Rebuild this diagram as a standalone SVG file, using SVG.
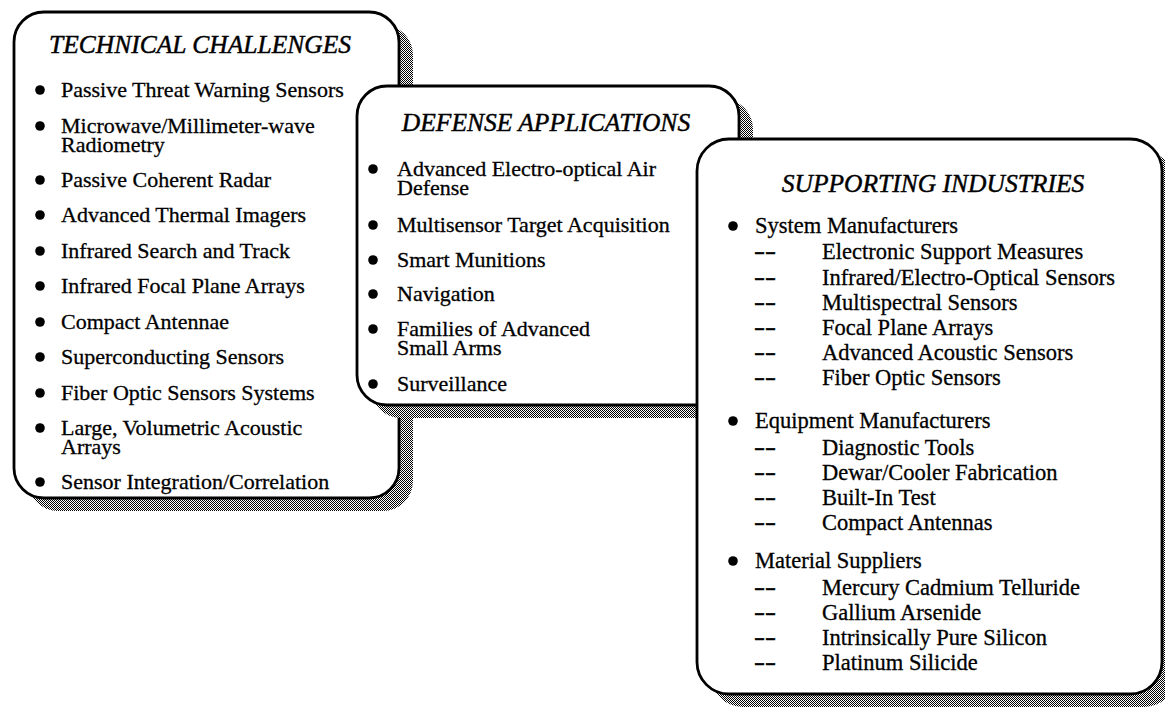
<svg xmlns="http://www.w3.org/2000/svg" width="1165" height="708" viewBox="0 0 1165 708">
<defs>
<pattern id="dither" x="0" y="0" width="2" height="2" patternUnits="userSpaceOnUse">
<rect x="0" y="0" width="2" height="2" fill="#fff"/>
<rect x="0" y="0" width="1" height="1" fill="#000"/>
<rect x="1" y="1" width="1" height="1" fill="#000"/>
</pattern>
</defs>
<style>
.box{fill:#fff;stroke:#000;stroke-width:2.8}
.shadow{fill:url(#dither);stroke:none}
.title{font-family:"Liberation Serif","Times New Roman",serif;font-style:italic;font-size:25.5px;fill:#000;stroke:#000;stroke-width:0.45;text-anchor:middle}
.t{font-family:"Liberation Serif","Times New Roman",serif;font-size:22px;fill:#000;stroke:#000;stroke-width:0.3}
.t3{font-family:"Liberation Serif","Times New Roman",serif;font-size:22.5px;fill:#000;stroke:#000;stroke-width:0.3}
.dash{font-family:"Liberation Serif","Times New Roman",serif;font-size:22.5px;fill:#000;stroke:#000;stroke-width:0.4}
.dot{fill:#000}
</style>
<rect width="1165" height="708" fill="#fff"/>
<g id="technical-challenges">
<rect class="shadow" x="28" y="25" width="385" height="486" rx="30"/>
<rect class="box" x="14" y="12" width="385" height="486" rx="30"/>
<text class="title" x="200" y="53">TECHNICAL CHALLENGES</text>
<circle class="dot" cx="40" cy="90" r="4.8"/><text class="t" x="61" y="97">Passive Threat Warning Sensors</text>
<circle class="dot" cx="40" cy="126" r="4.8"/><text class="t" x="61" y="133">Microwave/Millimeter-wave</text><text class="t" x="61" y="152">Radiometry</text>
<circle class="dot" cx="40" cy="180" r="4.8"/><text class="t" x="61" y="187">Passive Coherent Radar</text>
<circle class="dot" cx="40" cy="215" r="4.8"/><text class="t" x="61" y="222">Advanced Thermal Imagers</text>
<circle class="dot" cx="40" cy="251" r="4.8"/><text class="t" x="61" y="258">Infrared Search and Track</text>
<circle class="dot" cx="40" cy="286" r="4.8"/><text class="t" x="61" y="293">Infrared Focal Plane Arrays</text>
<circle class="dot" cx="40" cy="322" r="4.8"/><text class="t" x="61" y="329">Compact Antennae</text>
<circle class="dot" cx="40" cy="357" r="4.8"/><text class="t" x="61" y="364">Superconducting Sensors</text>
<circle class="dot" cx="40" cy="393" r="4.8"/><text class="t" x="61" y="400">Fiber Optic Sensors Systems</text>
<circle class="dot" cx="40" cy="428" r="4.8"/><text class="t" x="61" y="435">Large, Volumetric Acoustic</text><text class="t" x="61" y="454">Arrays</text>
<circle class="dot" cx="40" cy="482" r="4.8"/><text class="t" x="61" y="489">Sensor Integration/Correlation</text>
</g>
<g id="defense-applications">
<rect class="shadow" x="371" y="99" width="382" height="319" rx="30"/>
<rect class="box" x="357" y="86" width="382" height="319" rx="30"/>
<text class="title" x="546" y="131">DEFENSE APPLICATIONS</text>
<circle class="dot" cx="373" cy="169" r="4.8"/><text class="t" x="397" y="176">Advanced Electro-optical Air</text><text class="t" x="397" y="195">Defense</text>
<circle class="dot" cx="373" cy="225" r="4.8"/><text class="t" x="397" y="232">Multisensor Target Acquisition</text>
<circle class="dot" cx="373" cy="260" r="4.8"/><text class="t" x="397" y="267">Smart Munitions</text>
<circle class="dot" cx="373" cy="294" r="4.8"/><text class="t" x="397" y="301">Navigation</text>
<circle class="dot" cx="373" cy="329" r="4.8"/><text class="t" x="397" y="336">Families of Advanced</text><text class="t" x="397" y="355">Small Arms</text>
<circle class="dot" cx="373" cy="384" r="4.8"/><text class="t" x="397" y="391">Surveillance</text>
</g>
<g id="supporting-industries">
<rect class="shadow" x="711" y="152" width="465" height="555" rx="32"/>
<rect class="box" x="697" y="139" width="465" height="555" rx="32"/>
<text class="title" x="933" y="192">SUPPORTING INDUSTRIES</text>
<circle class="dot" cx="733" cy="226" r="4.8"/><text class="t3" x="755" y="233">System Manufacturers</text>
<text class="dash" x="754" y="259" textLength="22" lengthAdjust="spacingAndGlyphs">--</text><text class="t3" x="822" y="259">Electronic Support Measures</text>
<text class="dash" x="754" y="285" textLength="22" lengthAdjust="spacingAndGlyphs">--</text><text class="t3" x="822" y="285">Infrared/Electro-Optical Sensors</text>
<text class="dash" x="754" y="310" textLength="22" lengthAdjust="spacingAndGlyphs">--</text><text class="t3" x="822" y="310">Multispectral Sensors</text>
<text class="dash" x="754" y="335" textLength="22" lengthAdjust="spacingAndGlyphs">--</text><text class="t3" x="822" y="335">Focal Plane Arrays</text>
<text class="dash" x="754" y="360" textLength="22" lengthAdjust="spacingAndGlyphs">--</text><text class="t3" x="822" y="360">Advanced Acoustic Sensors</text>
<text class="dash" x="754" y="385" textLength="22" lengthAdjust="spacingAndGlyphs">--</text><text class="t3" x="822" y="385">Fiber Optic Sensors</text>
<circle class="dot" cx="733" cy="421" r="4.8"/><text class="t3" x="755" y="428">Equipment Manufacturers</text>
<text class="dash" x="754" y="455" textLength="22" lengthAdjust="spacingAndGlyphs">--</text><text class="t3" x="822" y="455">Diagnostic Tools</text>
<text class="dash" x="754" y="480" textLength="22" lengthAdjust="spacingAndGlyphs">--</text><text class="t3" x="822" y="480">Dewar/Cooler Fabrication</text>
<text class="dash" x="754" y="505" textLength="22" lengthAdjust="spacingAndGlyphs">--</text><text class="t3" x="822" y="505">Built-In Test</text>
<text class="dash" x="754" y="530" textLength="22" lengthAdjust="spacingAndGlyphs">--</text><text class="t3" x="822" y="530">Compact Antennas</text>
<circle class="dot" cx="733" cy="561" r="4.8"/><text class="t3" x="755" y="568">Material Suppliers</text>
<text class="dash" x="754" y="595" textLength="22" lengthAdjust="spacingAndGlyphs">--</text><text class="t3" x="822" y="595">Mercury Cadmium Telluride</text>
<text class="dash" x="754" y="620" textLength="22" lengthAdjust="spacingAndGlyphs">--</text><text class="t3" x="822" y="620">Gallium Arsenide</text>
<text class="dash" x="754" y="645" textLength="22" lengthAdjust="spacingAndGlyphs">--</text><text class="t3" x="822" y="645">Intrinsically Pure Silicon</text>
<text class="dash" x="754" y="670" textLength="22" lengthAdjust="spacingAndGlyphs">--</text><text class="t3" x="822" y="670">Platinum Silicide</text>
</g>
<g id="connectors"></g>
</svg>
